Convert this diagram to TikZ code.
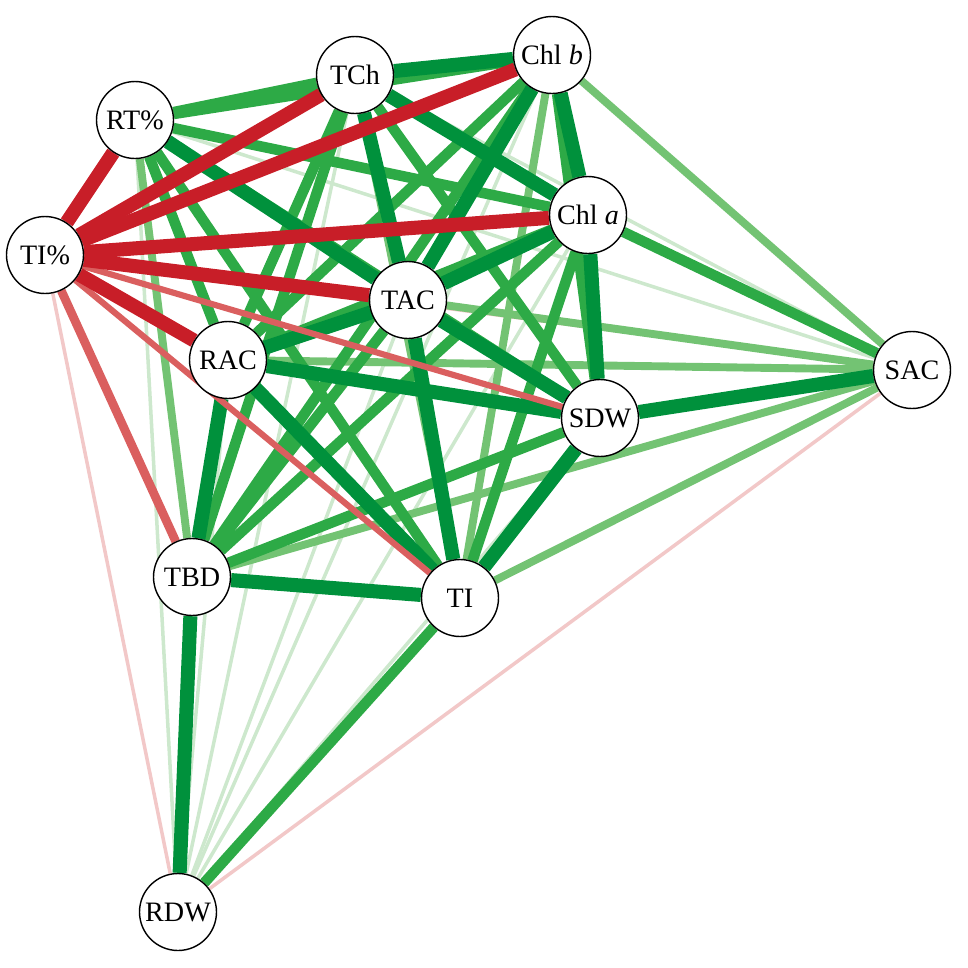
\documentclass[tikz,border=0pt]{standalone}
\usepackage{fontspec}
\setmainfont{Liberation Serif}
\usetikzlibrary{backgrounds}
\definecolor{gA}{RGB}{0,145,60}
\definecolor{gB}{RGB}{45,170,70}
\definecolor{gC}{RGB}{115,195,115}
\definecolor{gD}{RGB}{205,232,205}
\definecolor{rA}{RGB}{200,30,40}
\definecolor{rB}{RGB}{218,95,95}
\definecolor{rC}{RGB}{242,200,200}
\tikzset{
 nd/.style={circle,draw=black,line width=0.8pt,fill=white,minimum size=1.54cm,inner sep=0pt,font=\fontsize{16}{18}\selectfont},
 g1/.style={gA,line width=8pt}, g2/.style={gB,line width=6pt},
 g3/.style={gC,line width=4.5pt}, g4/.style={gD,line width=2pt},
 r1/.style={rA,line width=8pt}, r2/.style={rB,line width=5pt},
 r3/.style={rB,line width=3.5pt}, r4/.style={rC,line width=2pt}
}
\begin{document}
\begin{tikzpicture}[x=0.02cm,y=-0.02cm]
\useasboundingbox (0,0) rectangle (968,968);
\node[nd] (TCh) at (355,75) {TCh};
\node[nd] (Chlb) at (552,55) {Chl \textit{b}};
\node[nd] (RT) at (135,120) {RT\%};
\node[nd] (TIp) at (45,255) {TI\%};
\node[nd] (Chla) at (588,215) {Chl \textit{a}};
\node[nd] (TAC) at (408,300) {TAC};
\node[nd] (RAC) at (228,360) {RAC};
\node[nd] (SAC) at (912,370) {SAC};
\node[nd] (SDW) at (600,418) {SDW};
\node[nd] (TBD) at (192,577) {TBD};
\node[nd] (TI) at (460,598) {TI};
\node[nd] (RDW) at (178,912) {RDW};
\begin{scope}[on background layer]
\foreach \a/\b/\s in {
 RT/SAC/g4, RT/RDW/g4, TCh/SAC/g4, TCh/RDW/g4, Chlb/RDW/g4, Chla/RDW/g4, TAC/RDW/g4, RAC/RDW/g4, SDW/RDW/g4, SAC/RDW/r4, TIp/RDW/r4, TIp/SAC/r4,
 RT/TBD/g3, TCh/TI/g3, Chlb/TI/g3, Chlb/SAC/g3, TAC/SAC/g3, RAC/SAC/g3, TBD/SAC/g3, TI/SAC/g3,
 RT/TCh/g2, RT/Chlb/g2, RT/Chla/g2, RT/RAC/g2, RT/SDW/g2, RT/TI/g2,
 TCh/RAC/g2, TCh/SDW/g2, TCh/TBD/g2, Chlb/RAC/g2, Chlb/SDW/g2, Chlb/TBD/g2,
 Chla/RAC/g2, Chla/TBD/g2, Chla/TI/g2, Chla/SAC/g2, TAC/TBD/g2, SDW/TBD/g2, TI/RDW/g2,
 RT/TAC/g1, TCh/Chlb/g1, TCh/Chla/g1, TCh/TAC/g1, Chlb/Chla/g1, Chlb/TAC/g1, Chla/TAC/g1, Chla/SDW/g1,
 TAC/RAC/g1, TAC/SDW/g1, TAC/TI/g1, RAC/SDW/g1, RAC/TBD/g1, RAC/TI/g1, SDW/TI/g1, SDW/SAC/g1, TBD/TI/g1, TBD/RDW/g1,
 TIp/SDW/r3, TIp/TI/r3, TIp/TBD/r2,
 TIp/RT/r1, TIp/TCh/r1, TIp/Chlb/r1, TIp/Chla/r1, TIp/TAC/r1, TIp/RAC/r1}
 \draw[\s] (\a) -- (\b);
\end{scope}
\end{tikzpicture}
\end{document}
